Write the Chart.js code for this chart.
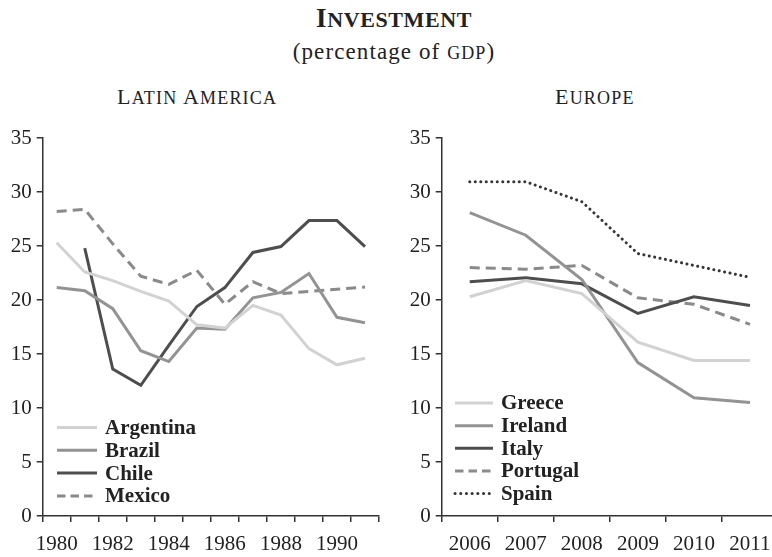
<!DOCTYPE html>
<html>
<head>
<meta charset="utf-8">
<script src="https://cdn.jsdelivr.net/npm/chart.js@4/dist/chart.umd.min.js"></script>
<style>
  html, body { margin: 0; padding: 0; background: #fff; overflow: hidden; }
  body { width: 772px; height: 557px; position: relative; font-family: 'Liberation Serif', serif; color: #222; }
  .title { position: absolute; left: 0; width: 788px; text-align: center; white-space: nowrap; }
  #mainTitle { top: 3px; font-size: 27px; font-weight: bold; letter-spacing: 0.6px; }
  #mainTitle .sc { font-size: 22px; }
  #subTitle { top: 39px; font-size: 23px; letter-spacing: 1.1px; }
  #subTitle .sc { font-size: 18px; }
  .panelTitle { position: absolute; top: 84px; font-size: 22px; letter-spacing: 1.2px; white-space: nowrap; }
  .panelTitle .sc { font-size: 18px; }
  #latamTitle { left: 117px; }
  #europeTitle { left: 555px; }
  canvas { position: absolute; }
  #latamChart { left: 0; top: 120px; }
  #europeChart { left: 390px; top: 120px; }
</style>
</head>
<body>
<div class="title" id="mainTitle">I<span class="sc">NVESTMENT</span></div>
<div class="title" id="subTitle">(percentage of <span class="sc">GDP</span>)</div>
<div class="panelTitle" id="latamTitle">L<span class="sc">ATIN</span> A<span class="sc">MERICA</span></div>
<div class="panelTitle" id="europeTitle">E<span class="sc">UROPE</span></div>
<canvas id="latamChart" width="390" height="437"></canvas>
<canvas id="europeChart" width="400" height="437"></canvas>
<script>
// Latin America, 1980-1991
const latamYears = ['1980', '1981', '1982', '1983', '1984', '1985', '1986', '1987', '1988', '1989', '1990', '1991'];
const argentina = [25.3, 22.6, 21.8, 20.8, 19.9, 17.7, 17.4, 19.5, 18.6, 15.5, 14.0, 14.6];
const brazil = [21.15, 20.85, 19.2, 15.3, 14.3, 17.4, 17.3, 20.2, 20.7, 22.45, 18.4, 17.9];
const chile = [null, 24.8, 13.6, 12.1, 15.8, 19.4, 21.15, 24.4, 24.95, 27.35, 27.35, 24.95];
const mexico = [28.2, 28.4, 25.2, 22.2, 21.45, 22.75, 19.6, 21.7, 20.6, 20.8, 21.0, 21.2];

// Europe, 2006-2011
const europeYears = ['2006', '2007', '2008', '2009', '2010', '2011'];
const greece = [20.3, 21.8, 20.6, 16.1, 14.4, 14.4];
const ireland = [28.1, 26.0, 21.9, 14.2, 10.95, 10.5];
const italy = [21.7, 22.05, 21.5, 18.75, 20.3, 19.5];
const portugal = [23.0, 22.85, 23.2, 20.2, 19.6, 17.75];
const spain = [30.95, 30.95, 29.1, 24.3, 23.2, 22.1];

// y axis ticks 0..35 step 5
const yMin = 0;
const yMax = 35;
const yStep = 5;

const LIGHT = '#d2d2d2';
const MID = '#939393';
const DARK = '#4e4e4e';
const DASHED = '#8a8a8a';
const DOTTED = '#363636';
const AXIS = '#333';
const SERIF = "'Liberation Serif', serif";

function series(label, data, color, dash, cap) {
    return {
        label: label,
        data: data,
        borderColor: color,
        backgroundColor: color,
        borderWidth: 3,
        borderDash: dash || [],
        borderCapStyle: cap || 'butt',
        borderJoinStyle: 'miter',
        pointRadius: 0,
        tension: 0,
        spanGaps: false,
    };
}

// Draws the legend inside the plot, lower left
const insideLegend = {
    id: 'insideLegend',
    afterDraw(chart, args, opts) {
        const ctx = chart.ctx;
        ctx.save();
        chart.data.datasets.forEach((ds, i) => {
            const y = opts.y + i * opts.gap;
            ctx.beginPath();
            ctx.strokeStyle = ds.borderColor;
            ctx.lineWidth = ds.borderWidth;
            ctx.lineCap = ds.borderCapStyle;
            ctx.setLineDash(ds.borderDash.length ? (ds.borderCapStyle === 'round' ? [0.1, 5.6] : [8.5, 5]) : []);
            ctx.moveTo(opts.x, y);
            ctx.lineTo(opts.x + opts.len, y);
            ctx.stroke();
            ctx.setLineDash([]);
            ctx.fillStyle = '#222';
            ctx.font = 'bold 21px ' + SERIF;
            ctx.textBaseline = 'middle';
            ctx.fillText(ds.label, opts.x + opts.len + 8, y + 1);
        });
        ctx.restore();
    }
};

function buildOptions(yWidth, padRight, legendPos, everyOther) {
    return {
        responsive: false,
        animation: false,
        layout: { padding: { left: 0, right: padRight, top: 18, bottom: 0 } },
        plugins: {
            legend: { display: false },
            tooltip: { enabled: false },
            insideLegend: legendPos,
        },
        scales: {
            x: {
                type: 'category',
                offset: true,
                afterFit: (scale) => { scale.height = 41; },
                grid: {
                    offset: true,
                    drawOnChartArea: false,
                    tickLength: 6,
                    color: AXIS,
                    lineWidth: 1.5,
                },
                border: { color: AXIS, width: 1.5 },
                ticks: {
                    autoSkip: false,
                    maxRotation: 0,
                    padding: 10,
                    color: '#222',
                    font: { family: SERIF, size: 21 },
                    callback: function (val, i) {
                        return (!everyOther || i % 2 === 0) ? this.getLabelForValue(val) : '';
                    },
                },
            },
            y: {
                min: yMin,
                max: yMax,
                afterFit: (scale) => { scale.width = yWidth; },
                grid: {
                    drawOnChartArea: false,
                    tickLength: 6,
                    color: AXIS,
                    lineWidth: 1.5,
                },
                border: { color: AXIS, width: 1.5 },
                ticks: {
                    stepSize: yStep,
                    padding: 5,
                    color: '#222',
                    font: { family: SERIF, size: 21 },
                },
            },
        },
    };
}

new Chart(document.getElementById('latamChart'), {
    type: 'line',
    data: {
        labels: latamYears,
        datasets: [
            series('Argentina', argentina, LIGHT),
            series('Brazil', brazil, MID),
            series('Chile', chile, DARK),
            series('Mexico', mexico, DASHED, [10, 6]),
        ],
    },
    options: buildOptions(42.7, 11, { x: 57, y: 307.5, gap: 22.8, len: 40 }, true),
    plugins: [insideLegend],
});

new Chart(document.getElementById('europeChart'), {
    type: 'line',
    data: {
        labels: europeYears,
        datasets: [
            series('Greece', greece, LIGHT),
            series('Ireland', ireland, MID),
            series('Italy', italy, DARK),
            series('Portugal', portugal, DASHED, [10, 6]),
            series('Spain', spain, DOTTED, [0.1, 5.4], 'round'),
        ],
    },
    options: buildOptions(51.7, 12, { x: 65, y: 283, gap: 22.65, len: 38 }, false),
    plugins: [insideLegend],
});
</script>
</body>
</html>
